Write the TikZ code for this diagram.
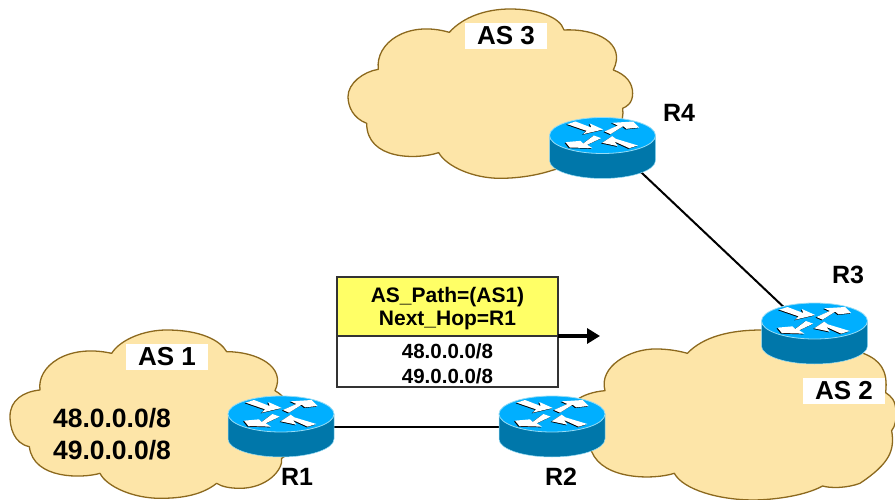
\documentclass[tikz,border=0pt]{standalone}
\usepackage{fontspec}
\setmainfont{Liberation Sans}
\usetikzlibrary{arrows.meta}
\definecolor{cloudfill}{RGB}{253,229,168}
\definecolor{cloudedge}{RGB}{140,105,30}
\definecolor{rtop}{RGB}{0,175,255}
\definecolor{rside}{RGB}{0,119,170}
\definecolor{rlight}{RGB}{150,220,245}
\definecolor{boxyellow}{RGB}{255,255,102}
\tikzset{
  cloudshape/.style={fill=cloudfill,draw=cloudedge,line width=1.3pt,line join=round},
  routerbox/.style={inner sep=0pt,outer sep=0pt,minimum width=106pt,minimum height=61pt},
  aslabel/.style={fill=white,inner sep=0pt,minimum width=82pt,minimum height=26pt,font=\bfseries\fontsize{26}{28}\selectfont},
  rlabel/.style={inner sep=0pt,font=\bfseries\fontsize{25}{28}\selectfont},
  prefixtext/.style={inner sep=0pt,font=\bfseries\fontsize{26.5}{30}\selectfont},
  hdrtext/.style={inner sep=0pt,font=\bfseries\fontsize{21}{24}\selectfont},
  celltext/.style={inner sep=0pt,font=\bfseries\fontsize{20.5}{24}\selectfont},
  tbox/.style={draw=black!80,line width=1.3pt,inner sep=0pt,outer sep=0pt,minimum width=221pt},
  wire/.style={draw=black,line width=2pt},
}
\newcommand{\routerart}[1]{%
  \begin{scope}[shift={(#1.center)},yshift=12.5pt]
    \fill[rside,draw=rlight,line width=.5pt] (-53,0) -- (-53,25) arc[start angle=180,end angle=0,x radius=53,y radius=18] -- (53,0) -- cycle;
    \fill[rtop,draw=rlight,line width=.8pt] (0,0) ellipse[x radius=53,y radius=18];
    \begin{scope}[shift={(-72,-34)},scale=1/3]
      \foreach \sx/\sy/\col in {-3/2/black,0/0/white}{
        \begin{scope}[shift={(\sx,\sy)}]
        \fill[\col] (110,68) -- (135,60) -- (182,78) -- (178,66) -- (218,84) -- (158,98) -- (168,88) -- cycle;
        \fill[\col] (222,90) -- (262,72) -- (245,64) -- (308,60) -- (326,78) -- (288,82) -- (278,74) -- (240,98) -- cycle;
        \fill[\col] (212,110) -- (170,130) -- (186,140) -- (118,138) -- (105,122) -- (150,118) -- (158,126) -- (190,102) -- cycle;
        \fill[\col] (322,132) -- (296,140) -- (252,120) -- (262,134) -- (215,124) -- (245,104) -- (256,112) -- cycle;
        \end{scope}
      }
    \end{scope}
  \end{scope}}
\begin{document}
\begin{tikzpicture}[x=1pt,y=-1pt]
\useasboundingbox (0,0) rectangle (895,500);
\clip (0,0) rectangle (895,500);
\begin{scope}[shift={(0,330)},x=.3333pt,y=-.3333pt]
\path[cloudshape] (120,180) .. controls (110,110) and (200,40) .. (335,70)
 .. controls (360,30) and (430,0) .. (500,0) .. controls (600,0) and (660,30) .. (680,65)
 .. controls (770,65) and (860,110) .. (825,182) .. controls (850,195) and (900,250) .. (900,300)
 .. controls (900,340) and (870,370) .. (845,385) .. controls (850,420) and (800,475) .. (720,475)
 .. controls (690,475) and (665,470) .. (650,460) .. controls (600,500) and (530,505) .. (480,505)
 .. controls (400,505) and (320,470) .. (300,430) .. controls (250,445) and (100,450) .. (88,350)
 .. controls (40,340) and (30,290) .. (30,260) .. controls (30,210) and (70,185) .. (120,180) -- cycle;
\end{scope}
\begin{scope}[shift={(340,0)},x=.3333pt,y=-.3333pt]
\path[cloudshape] (115,208) .. controls (105,130) and (200,60) .. (328,97)
 .. controls (370,50) and (440,27) .. (510,27) .. controls (590,27) and (660,50) .. (672,90)
 .. controls (770,85) and (860,130) .. (820,210) .. controls (860,225) and (878,250) .. (878,280)
 .. controls (878,310) and (860,320) .. (848,325) .. controls (860,400) and (760,480) .. (640,510)
 .. controls (580,530) and (520,535) .. (480,535) .. controls (400,535) and (320,500) .. (296,458)
 .. controls (230,480) and (80,480) .. (80,370) .. controls (40,355) and (24,320) .. (24,290)
 .. controls (24,250) and (70,215) .. (115,208) -- cycle;
\end{scope}
\begin{scope}[shift={(570,300)},x=.3333pt,y=-.3333pt]
\path[cloudshape] (105,272) .. controls (85,200) and (180,145) .. (260,147)
 .. controls (300,147) and (335,155) .. (352,160) .. controls (400,110) and (480,90) .. (575,90)
 -- (880,160) .. controls (930,180) and (955,210) .. (947,278)
 .. controls (965,290) and (975,300) .. (978,330) .. controls (980,360) and (975,380) .. (965,392)
 .. controls (975,450) and (960,490) .. (870,550) .. controls (830,565) and (780,565) .. (758,558)
 .. controls (700,590) and (600,600) .. (550,600) .. controls (450,600) and (340,570) .. (313,520)
 .. controls (250,540) and (100,540) .. (65,455) -- (20,300) .. controls (40,285) and (70,275) .. (105,272) -- cycle;
\end{scope}
\node[routerbox] (R1) at (281,426.5) {};
\node[routerbox] (R2) at (552,426.5) {};
\node[routerbox] (R3) at (814.5,333.5) {};
\node[routerbox] (R4) at (602.5,148) {};
\draw[wire,yshift=-1.5pt] (R1.east) -- (R2.west);
\draw[wire,shorten <=-14pt,shorten >=-14pt] (R4.-34.6) -- (R3.139);
\routerart{R1}\routerart{R2}\routerart{R3}\routerart{R4}
\node[aslabel] (as1) at (167,357) {AS 1};
\node[aslabel] (as3) at (506,36) {AS 3};
\node[aslabel] (as2) at (844,391) {AS 2};
\node[prefixtext] (p48) at (112,418) {48.0.0.0/8};
\node[prefixtext] (p49) at (112,450) {49.0.0.0/8};
\node[rlabel] (lr1) at (297,477) {R1};
\node[rlabel] (lr2) at (561,477) {R2};
\node[rlabel] (lr3) at (848,275) {R3};
\node[rlabel] (lr4) at (679,113) {R4};
\node[tbox,fill=boxyellow,minimum height=59pt] (hdr) at (447.5,306.5) {};
\node[tbox,fill=white,minimum height=51pt] (body) at (447.5,361.5) {};
\node[hdrtext] (t1) at (447.5,297) {AS\_Path=(AS1)};
\node[hdrtext] (t2) at (447.5,320) {Next\_Hop=R1};
\node[celltext] (t3) at (447.5,351) {48.0.0.0/8};
\node[celltext] (t4) at (447.5,376) {49.0.0.0/8};
\coordinate (arrowend) at (600,336);
\draw[black,line width=3.5pt,-{Triangle[length=13pt,width=15pt]}] (hdr.south east) -- (arrowend);
\end{tikzpicture}
\end{document}
